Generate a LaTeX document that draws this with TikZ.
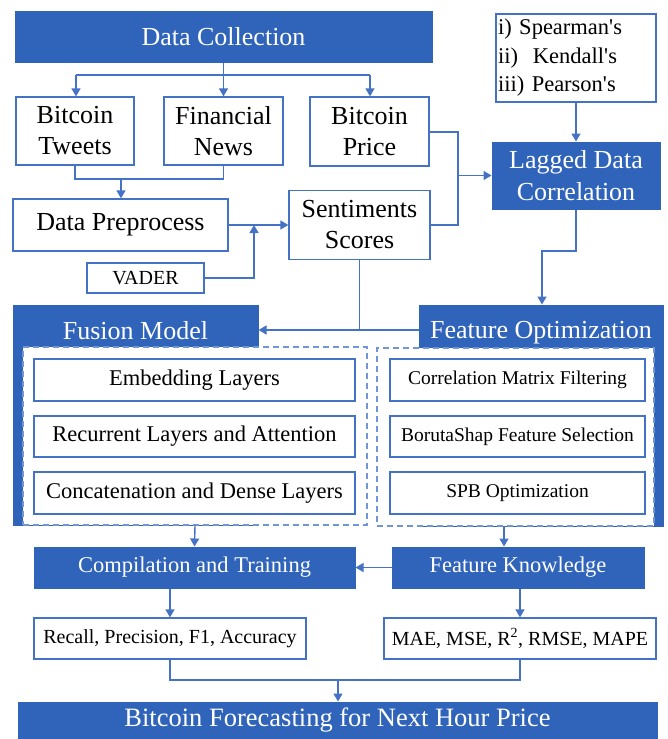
\documentclass[tikz,border=0pt]{standalone}
\usepackage{fontspec}
\setmainfont{Liberation Serif}[Ligatures=TeXOff]
\usetikzlibrary{arrows.meta}
\definecolor{bfill}{RGB}{48,100,186}
\definecolor{bline}{RGB}{68,114,196}
\definecolor{dline}{RGB}{112,150,213}
\newcommand\fz[2]{\fontsize{#1}{#2}\selectfont}
\begin{document}
\begin{tikzpicture}[x=1pt,y=-1pt,
  wbox/.style={draw=bline, line width=1.3pt, fill=white, inner sep=0pt, align=center, text=black},
  bbox/.style={draw=bfill, fill=bfill, line width=1pt, inner sep=0pt, align=center, text=white},
  dpanel/.style={draw=dline, line width=1.4pt, dash pattern=on 6pt off 4pt, fill=white, inner sep=0pt},
  ln/.style={draw=bline, line width=1.4pt},
  arr/.style={draw=bline, line width=1.4pt, -{Triangle[length=8pt,width=9pt]}}]
\useasboundingbox (0,0) rectangle (667,739);
% top
\node[bbox, minimum width=417pt, minimum height=51pt, font=\fz{26}{31}] (dc) at (223.5,36.5) {Data Collection};
\node[wbox, minimum width=118pt, minimum height=68pt, font=\fz{26}{31}] (tw) at (75,131) {Bitcoin\\Tweets};
\node[wbox, minimum width=119pt, minimum height=68pt, font=\fz{26}{31}] (fn) at (223.5,131) {Financial\\News};
\node[wbox, minimum width=119pt, minimum height=69pt, font=\fz{26}{31}] (bp) at (369.5,131.5) {Bitcoin\\Price};
\node[wbox, minimum width=215pt, minimum height=52pt, font=\fz{26}{31}] (dp) at (120.5,225) {Data Preprocess};
\node[wbox, minimum width=117pt, minimum height=30pt, font=\fz{20}{24}] (vd) at (145.5,278) {VADER};
\node[wbox, minimum width=141pt, minimum height=69pt, font=\fz{26}{31}] (ss) at (359.5,225) {Sentiments\\Scores};
\node[wbox, minimum width=160pt, minimum height=88pt, text width=156pt, align=left, font=\fz{22.5}{28.5}] (sp) at (576,58) {i) Spearman's\\ii)\ \ Kendall's\\iii) Pearson's};
\node[bbox, minimum width=168pt, minimum height=67pt, font=\fz{26}{32}] (lg) at (576,175.5) {Lagged Data\\Correlation};
% connectors top
\coordinate (s1) at (76,75);
\coordinate (s3) at (370,75);
\draw[arr] (dc.south) -- (fn.north);
\draw[ln] (s1) -- (s3);
\draw[arr] (s1) -- (s1 |- tw.north);
\draw[arr] (s3) -- (s3 |- bp.north);
\coordinate (m1) at (121,179);
\draw[ln] (tw.south) |- (m1) -| (fn.south);
\draw[arr] (m1) -- (m1 |- dp.north);
\draw[arr] (dp.east) -- (ss.west);
\coordinate (v1) at (254,225);
\draw[arr] (vd.east) -| (v1);
\coordinate (jt) at (458,132);
\coordinate (jb) at (458,225);
\draw[ln] (bp.east |- jt) -- (jt) -- (jb) -- (ss.east);
\draw[arr] (jt |- lg.west) -- (lg.west);
\draw[arr] (sp.south) -- (lg.north);
% middle
\node[bbox, minimum width=245pt, minimum height=220pt] (fm) at (135.5,415) {};
\node[bbox, minimum width=244pt, minimum height=221pt] (fo) at (541,415.5) {};
\node[text=white, font=\fz{26}{31}, anchor=base, inner sep=0pt] (fmt) at (135.5,339) {Fusion Model};
\node[text=white, font=\fz{26}{31}, anchor=base, inner sep=0pt] (fot) at (541,338) {Feature Optimization};
\coordinate (l1) at (576,251);
\coordinate (l2) at (542,251);
\draw[arr] (lg.south) -- (l1) -- (l2) -- (l2 |- fo.north);
\coordinate (a1) at (359.5,330);
\draw[ln] (ss.south) -- (a1);
\draw[arr] (a1 -| fo.west) -- (a1 -| fm.east);
\node[dpanel, minimum width=344pt, minimum height=178pt] (fp) at (195,436) {};
\node[dpanel, minimum width=277pt, minimum height=178pt] (op) at (515.5,437) {};
\node[wbox, minimum width=321pt, minimum height=42pt, font=\fz{22.5}{26}] (e1) at (194.5,380) {Embedding Layers};
\node[wbox, minimum width=321pt, minimum height=41pt, font=\fz{22.5}{26}] (e2) at (194.5,436.5) {Recurrent Layers and Attention};
\node[wbox, minimum width=321pt, minimum height=42pt, font=\fz{22.5}{26}] (e3) at (194.5,493) {Concatenation and Dense Layers};
\node[wbox, minimum width=255pt, minimum height=42pt, font=\fz{19.5}{24}] (f1) at (517.5,380) {Correlation Matrix Filtering};
\node[wbox, minimum width=255pt, minimum height=41pt, font=\fz{19.5}{24}] (f2) at (517.5,436.5) {BorutaShap Feature Selection};
\node[wbox, minimum width=255pt, minimum height=42pt, font=\fz{19.5}{24}] (f3) at (517.5,493) {SPB Optimization};
% bottom
\node[bbox, minimum width=321pt, minimum height=41pt, font=\fz{22.5}{26}] (ct) at (194.5,567.5) {Compilation and Training};
\node[bbox, minimum width=252pt, minimum height=41pt, font=\fz{22.5}{26}] (fk) at (518,567.5) {Feature Knowledge};
\node[wbox, minimum width=272pt, minimum height=41pt, font=\fz{20}{24}] (rc) at (170,638.5) {Recall, Precision, F1, Accuracy};
\node[wbox, minimum width=272pt, minimum height=41pt, font=\fz{20}{24}] (mae) at (520,638.5) {MAE, MSE, R\textsuperscript{2}, RMSE, MAPE};
\node[bbox, minimum width=639pt, minimum height=37pt, font=\fz{26.5}{32}] (bf) at (337.5,720.5) {Bitcoin Forecasting for Next Hour Price};
\draw[arr] (fp.south) -- (ct.north);
\coordinate (fq) at (504,526);
\draw[arr] (fq) -- (fq |- fk.north);
\draw[arr] (fk.west) -- (ct.east);
\draw[arr] (rc.north |- ct.south) -- (rc.north);
\draw[arr] (mae.north |- fk.south) -- (mae.north);
\coordinate (m2) at (338,680);
\draw[ln] (rc.south) |- (m2) -| (mae.south);
\draw[arr] (m2) -- (m2 |- bf.north);
\end{tikzpicture}
\end{document}
